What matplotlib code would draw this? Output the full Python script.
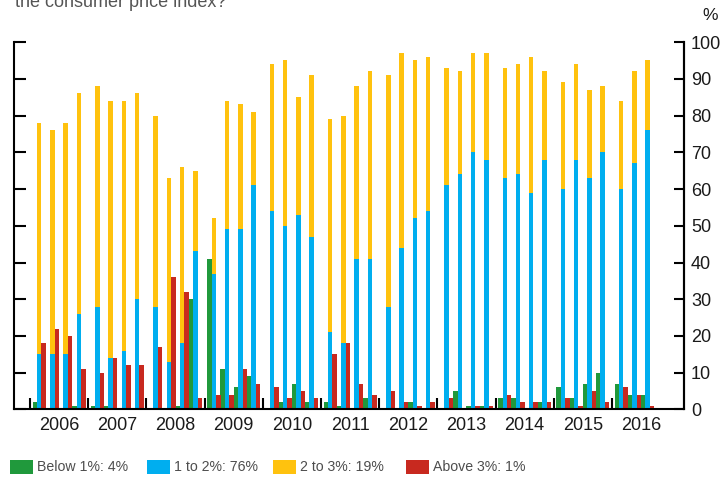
import matplotlib.pyplot as plt
import numpy as np
from matplotlib.patches import Rectangle

plt.rcParams['font.family'] = ['Liberation Sans', 'DejaVu Sans']

# -----------------------------------------------------------#
# Data (2006 Q1 .. 2016 Q3), % of respondents
# -----------------------------------------------------------#
years = list(range(2006, 2017))
n_quarters = [4] * 10 + [3]

below1 = [2, 0, 0, 1,  1, 1, 0, 0,  0, 0, 1, 30,  41, 11, 6, 9,
          0, 2, 7, 2,  2, 1, 0, 3,  0, 0, 2, 0,  0, 5, 1, 1,
          3, 3, 0, 2,  6, 3, 7, 10,  7, 4, 4]
one_to_two = [15, 15, 15, 26,  28, 14, 16, 30,  28, 13, 18, 43,  37, 49, 49, 61,
              54, 50, 53, 47,  21, 18, 41, 41,  28, 44, 52, 54,  61, 64, 70, 68,
              63, 64, 59, 68,  60, 68, 63, 70,  60, 67, 76]
two_to_three = [63, 61, 63, 60,  60, 70, 68, 56,  52, 50, 48, 22,  15, 35, 34, 20,
                40, 45, 32, 44,  58, 62, 47, 51,  63, 53, 43, 42,  32, 28, 27, 29,
                30, 30, 37, 24,  29, 26, 24, 18,  24, 25, 19]
above3 = [18, 22, 20, 11,  10, 14, 12, 12,  17, 36, 32, 3,  4, 4, 11, 7,
          6, 3, 5, 3,  15, 18, 7, 4,  5, 2, 1, 2,  3, 0, 1, 1,
          4, 2, 2, 2,  3, 1, 5, 2,  6, 4, 1]

labels = ['Below 1%: 4%', '1 to 2%: 76%', '2 to 3%: 19%', 'Above 3%: 1%']

c_green = '#20993c'
c_blue = '#00aeef'
c_yellow = '#ffc20e'
c_red = '#c8291f'

# -----------------------------------------------------------#
# Positions
# -----------------------------------------------------------#
x = []
for y, nq in zip(years, n_quarters):
    for q in range(nq):
        x.append(y + 0.5 + (q - 1.5) * 0.227)
x = np.array(x)
w = 0.076

fig = plt.figure(figsize=(7.25, 4.79), dpi=100)
ax = fig.add_axes([0.0189, 0.1451, 0.9245, 0.7672])

ax.bar(x - w, below1, w, color=c_green, linewidth=0)
ax.bar(x, one_to_two, w, color=c_blue, linewidth=0)
ax.bar(x, two_to_three, w, bottom=one_to_two, color=c_yellow, linewidth=0)
ax.bar(x + w, above3, w, color=c_red, linewidth=0)

ax.set_xlim(2005.72, 2017.237)
ax.set_ylim(0, 100)

ax.spines['top'].set_visible(False)
for s in ['left', 'right', 'bottom']:
    ax.spines[s].set_linewidth(1.5)

# x axis: year boundary ticks + centred labels
ax.set_xticks([y + 0.5 for y in years])
ax.set_xticklabels([str(y) for y in years], fontsize=13, color='#1a1a1a')
ax.set_xticks(years, minor=True)
ax.tick_params(axis='x', which='major', length=0, pad=5.5)
ax.tick_params(axis='x', which='minor', direction='in', length=8, width=1.5)

# y axis: ticks on left, labels on right
ax.set_yticks(range(0, 101, 10))
ax.tick_params(axis='y', left=True, right=False, labelleft=False,
               direction='in', length=8.5, width=1.5)
ax2 = ax.twinx()
ax2.set_ylim(0, 100)
ax2.set_yticks(range(0, 101, 10))
ax2.tick_params(axis='y', direction='in', length=7, width=1.5, pad=5,
                labelsize=13, labelcolor='#1a1a1a')
for s in ['top', 'left', 'bottom']:
    ax2.spines[s].set_visible(False)
ax2.spines['right'].set_linewidth(1.5)

fig.text(710 / 725, 1 - 15 / 479, '%', fontsize=12.5, ha='center', va='center',
         color='#1a1a1a')
fig.text(15 / 725, 1 - 7 / 479, 'the consumer price index?', fontsize=13,
         ha='left', va='baseline', color='#555555')

# -----------------------------------------------------------#
# Legend
# -----------------------------------------------------------#
leg_x = [10, 147, 273, 406]
for lx, col, lab in zip(leg_x, [c_green, c_blue, c_yellow, c_red], labels):
    fig.add_artist(Rectangle((lx / 725, 1 - 474 / 479), 23 / 725, 14 / 479,
                             transform=fig.transFigure, color=col, linewidth=0))
    fig.text((lx + 27) / 725, 1 - 467 / 479, lab, fontsize=10.2, ha='left',
             va='center', color='#4d4d4d')

fig.savefig('out.png', dpi=100)
